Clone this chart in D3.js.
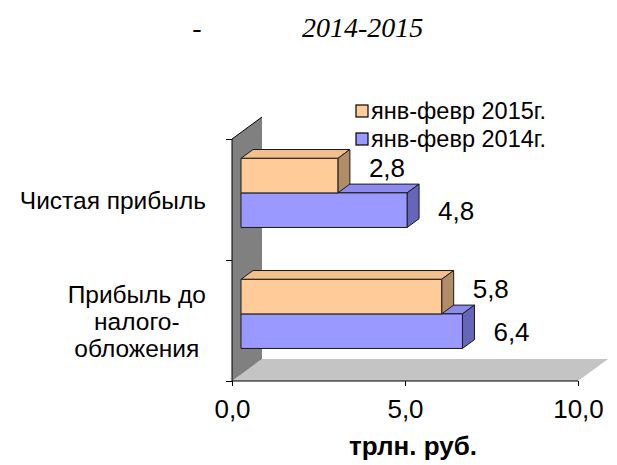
<!DOCTYPE html>
<html>
<head>
<meta charset="utf-8">
<script src="https://cdn.jsdelivr.net/npm/d3@7"></script>
<style>
  body { margin: 0; background: #fff; }
  text { font-family: Arial, "Liberation Sans", sans-serif; fill: #000; }
</style>
</head>
<body>
<svg width="617" height="465"></svg>
<script>
// data
const categories = ['Чистая прибыль', 'Прибыль до налого-обложения'];
const categoryLines = [['Чистая прибыль'], ['Прибыль до', 'налого-', 'обложения']];
const seriesNames = ['янв-февр 2015г.', 'янв-февр 2014г.'];
const values2015 = [2.8, 5.8];
const values2014 = [4.8, 6.4];
const xTicks = [0, 5, 10];

const frontColors = ['#FFCC99', '#9999FF'];
const topColors = ['#F2C08F', '#8C8CF0'];
const sideColors = ['#B08C68', '#6666B8'];

const svg = d3.select('svg');

// plot box (front plane) and depth offset
const plotL = 232, plotR = 578, plotT = 139, plotB = 381;
const depthX = 30, depthY = -22;
const barFront = 0.3, barBack = 0.7;

const x = d3.scaleLinear().domain([0, 10]).range([plotL, plotR]);
const y = d3.scaleBand().domain(categories).range([plotT, plotB]).paddingInner(0).paddingOuter(0);
const sub = d3.scaleBand().domain(seriesNames).range([0, y.bandwidth()]).paddingOuter(0.75).paddingInner(0);

function proj(px, py, f) { return [px + depthX * f, py + depthY * f]; }
function poly(pts) { return pts.map(p => p.join(',')).join(' '); }
const fmt = v => d3.format('.1f')(v).replace('.', ',');

// title
svg.append('text')
  .attr('x', 197).attr('y', 37)
  .style('font-family', '"Liberation Serif", "Times New Roman", serif')
  .style('font-style', 'italic').style('font-size', '28px')
  .attr('text-anchor', 'middle')
  .text('-');
svg.append('text')
  .attr('x', 302).attr('y', 37)
  .style('font-family', '"Liberation Serif", "Times New Roman", serif')
  .style('font-style', 'italic').style('font-size', '28px')
  .text('2014-2015');

// floor
svg.append('polygon')
  .attr('points', poly([proj(plotL, plotB, 0), proj(plotR, plotB, 0), proj(plotR, plotB, 1), proj(plotL, plotB, 1)]))
  .attr('fill', '#C4C4C4');

// side wall
svg.append('polygon')
  .attr('points', poly([proj(plotL, plotT, 0), proj(plotL, plotT, 1), proj(plotL, plotB, 1), proj(plotL, plotB, 0)]))
  .attr('fill', '#808080');
svg.append('line')
  .attr('x1', plotL).attr('y1', plotT)
  .attr('x2', proj(plotL, plotT, 1)[0]).attr('y2', proj(plotL, plotT, 1)[1])
  .attr('stroke', '#000').attr('stroke-width', 1);

// bars, lowest first so the upper ones overlap correctly
const bars = [];
categories.forEach((c, i) => {
  [values2015[i], values2014[i]].forEach((v, s) => {
    bars.push({ cat: c, s: s, v: v, y0: y(c) + sub(seriesNames[s]) });
  });
});
bars.sort((a, b) => b.y0 - a.y0);

const h = sub.bandwidth();
const barG = svg.append('g');
bars.forEach(d => {
  const x0 = x(0), x1 = x(d.v), y0 = d.y0, y1 = d.y0 + h;
  const g = barG.append('g')
    .attr('stroke', '#1a1a1a').attr('stroke-width', 1).attr('stroke-linejoin', 'round');
  g.append('polygon')
    .attr('points', poly([proj(x0, y0, barFront), proj(x1, y0, barFront), proj(x1, y0, barBack), proj(x0, y0, barBack)]))
    .attr('fill', topColors[d.s]);
  g.append('polygon')
    .attr('points', poly([proj(x1, y0, barFront), proj(x1, y0, barBack), proj(x1, y1, barBack), proj(x1, y1, barFront)]))
    .attr('fill', sideColors[d.s]);
  g.append('polygon')
    .attr('points', poly([proj(x0, y0, barFront), proj(x1, y0, barFront), proj(x1, y1, barFront), proj(x0, y1, barFront)]))
    .attr('fill', frontColors[d.s]);
});

// data labels
barG.selectAll('text.val')
  .data(bars)
  .join('text')
  .attr('class', 'val')
  .attr('x', d => proj(x(d.v), 0, barBack)[0] + 19)
  .attr('y', d => proj(0, d.y0 + h / 2, barFront)[1] - (d.s === 0 ? 8 : 0))
  .attr('dy', '0.36em')
  .style('font-size', '26px')
  .text(d => fmt(d.v));

// x axis
const xAxis = svg.append('g')
  .attr('transform', `translate(0,${plotB})`)
  .call(d3.axisBottom(x).tickValues(xTicks).tickSize(5).tickPadding(14).tickFormat(fmt));
xAxis.attr('font-family', null).attr('font-size', null);
xAxis.select('.domain').attr('stroke', '#000').attr('d', `M${plotL},0H${plotR}`);
xAxis.selectAll('.tick line').attr('stroke', '#000');
xAxis.selectAll('.tick text').style('font-size', '26px');

// y axis (category edges)
const yEdge = d3.scaleLinear().domain([0, categories.length]).range([plotB, plotT]);
const yAxis = svg.append('g')
  .attr('transform', `translate(${plotL},0)`)
  .call(d3.axisLeft(yEdge).tickValues(d3.range(categories.length + 1)).tickSize(6).tickFormat(''));
yAxis.select('.domain').attr('stroke', '#000').attr('d', `M0,${plotT}V${plotB}`);
yAxis.selectAll('.tick line').attr('stroke', '#000');

// category labels: block right-aligned, lines centred inside
const lineH = 27;
categoryLines.forEach((lines, i) => {
  const cy = y(categories[i]) + y.bandwidth() / 2 + 1;
  const t = svg.append('text').style('font-size', '24.5px').attr('text-anchor', 'middle');
  const spans = lines.map((ln, k) => t.append('tspan')
    .attr('y', cy + (k - (lines.length - 1) / 2) * lineH)
    .attr('dy', '0.36em')
    .text(ln));
  const w = d3.max(spans, s => s.node().getComputedTextLength());
  spans.forEach(s => s.attr('x', 206 - w / 2));
});

// axis title
svg.append('text')
  .attr('x', 413).attr('y', 455)
  .attr('text-anchor', 'middle')
  .style('font-size', '26px').style('font-weight', 'bold')
  .text('трлн. руб.');

// legend
const legend = svg.append('g').attr('transform', 'translate(356,105)');
seriesNames.forEach((name, i) => {
  const row = legend.append('g').attr('transform', `translate(0,${i * 28})`);
  row.append('rect')
    .attr('width', 12).attr('height', 12)
    .attr('fill', frontColors[i]).attr('stroke', '#000').attr('stroke-width', 1.2);
  row.append('text')
    .attr('x', 15).attr('y', 6).attr('dy', '0.36em')
    .style('font-size', '23.5px')
    .text(name);
});
</script>
</body>
</html>
